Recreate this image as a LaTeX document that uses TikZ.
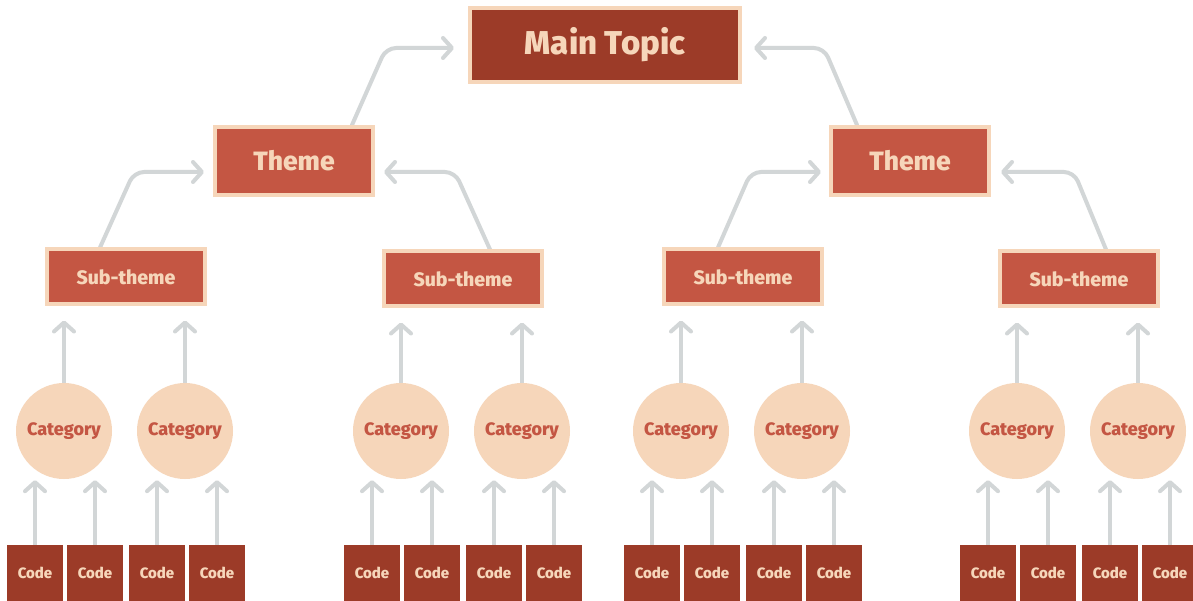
\documentclass[tikz,border=0pt]{standalone}
\usepackage{fontspec}
\setmainfont{Fira Sans}[BoldFont={Fira Sans ExtraBold}]
\usetikzlibrary{arrows.meta}
\definecolor{rust}{HTML}{9C3B28}
\definecolor{brick}{HTML}{C45643}
\definecolor{peach}{HTML}{F6D6BA}
\definecolor{linegrey}{HTML}{D2D6D7}
\pgfdeclarelayer{bg}
\pgfsetlayers{bg,main}
\tikzset{
  topbox/.style={rectangle, fill=rust, draw=peach, line width=4pt,
    minimum width=270pt, minimum height=74pt, inner sep=0pt,
    text=peach, font=\fontsize{33}{36}\selectfont\bfseries},
  themebox/.style={rectangle, fill=brick, draw=peach, line width=4pt,
    minimum width=158pt, minimum height=68pt, inner sep=0pt,
    text=peach, font=\fontsize{26.5}{29}\selectfont\bfseries},
  subbox/.style={rectangle, fill=brick, draw=peach, line width=4pt,
    minimum width=158pt, minimum height=55pt, inner sep=0pt,
    text=peach, font=\fontsize{19.5}{22}\selectfont\bfseries},
  catnode/.style={circle, fill=peach, minimum size=96pt, inner sep=0pt,
    text=brick, font=\fontsize{18}{21}\selectfont\bfseries},
  codebox/.style={rectangle, fill=rust, minimum width=56pt, minimum height=56pt,
    inner sep=0pt, text=peach, font=\fontsize{15}{17}\selectfont\bfseries},
  conn/.style={draw=linegrey, line width=4pt, line cap=round, line join=round,
    rounded corners=10pt,
    -{Straight Barb[length=9pt,width=20pt,round]}},
}
\begin{document}
\begin{tikzpicture}[x=1pt,y=-1pt]
  \begin{pgfonlayer}{bg}
    \fill[white] (0,0) rectangle (1193,601);
  \end{pgfonlayer}
  \useasboundingbox (0,0) rectangle (1193,601);

  % upper levels
  \node[topbox]   (main) at (605,45)  {Main Topic};
  \node[themebox] (th1)  at (294,161) {Theme};
  \node[themebox] (th2)  at (910,161) {Theme};

  % four branches of sub-theme, categories and codes
  \foreach \g/\off/\sy in {1/0/277, 2/337/279, 3/617/277, 4/953/279} {
    \node[subbox]  (st\g) at (126+\off,\sy) {Sub-theme};
    \node[catnode] (ca\g) at (64+\off,431)  {Category};
    \node[catnode] (cb\g) at (185+\off,431) {Category};
    \node[codebox] (k\g1) at (35+\off,573)  {Code};
    \node[codebox] (k\g2) at (95+\off,573)  {Code};
    \node[codebox] (k\g3) at (157+\off,573) {Code};
    \node[codebox] (k\g4) at (217+\off,573) {Code};
    \begin{pgfonlayer}{bg}
      \draw[conn, shorten >=14pt] (ca\g.north) -- (ca\g.north |- st\g.south);
      \draw[conn, shorten >=14pt] (cb\g.north) -- (cb\g.north |- st\g.south);
      \draw[conn, shorten >=1pt] (k\g1.north) -- (k\g1.north |- ca\g.south);
      \draw[conn, shorten >=1pt] (k\g2.north) -- (k\g2.north |- ca\g.south);
      \draw[conn, shorten >=1pt] (k\g3.north) -- (k\g3.north |- cb\g.south);
      \draw[conn, shorten >=1pt] (k\g4.north) -- (k\g4.north |- cb\g.south);
    \end{pgfonlayer}
  }

  % bent connectors from sub-themes to themes and from themes to the topic
  \begin{pgfonlayer}{bg}
    \draw[conn] ([xshift=-26pt]st1.north) -- ([xshift=-79pt,yshift=-11pt]th1.west)
      -- ([xshift=-9pt,yshift=-11pt]th1.west);
    \draw[conn] ([xshift=27pt]st2.north) -- ([xshift=80pt,yshift=-11pt]th1.east)
      -- ([xshift=9pt,yshift=-11pt]th1.east);
    \draw[conn] ([xshift=-25pt]st3.north) -- ([xshift=-78pt,yshift=-11pt]th2.west)
      -- ([xshift=-8pt,yshift=-11pt]th2.west);
    \draw[conn] ([xshift=27pt]st4.north) -- ([xshift=83pt,yshift=-11pt]th2.east)
      -- ([xshift=10pt,yshift=-11pt]th2.east);
    \draw[conn] ([xshift=58pt]th1.north) -- ([xshift=-82pt,yshift=-3pt]main.west)
      -- ([xshift=-14pt,yshift=-3pt]main.west);
    \draw[conn] ([xshift=-53pt]th2.north) -- ([xshift=82pt,yshift=-3pt]main.east)
      -- ([xshift=12pt,yshift=-3pt]main.east);
  \end{pgfonlayer}
\end{tikzpicture}
\end{document}
